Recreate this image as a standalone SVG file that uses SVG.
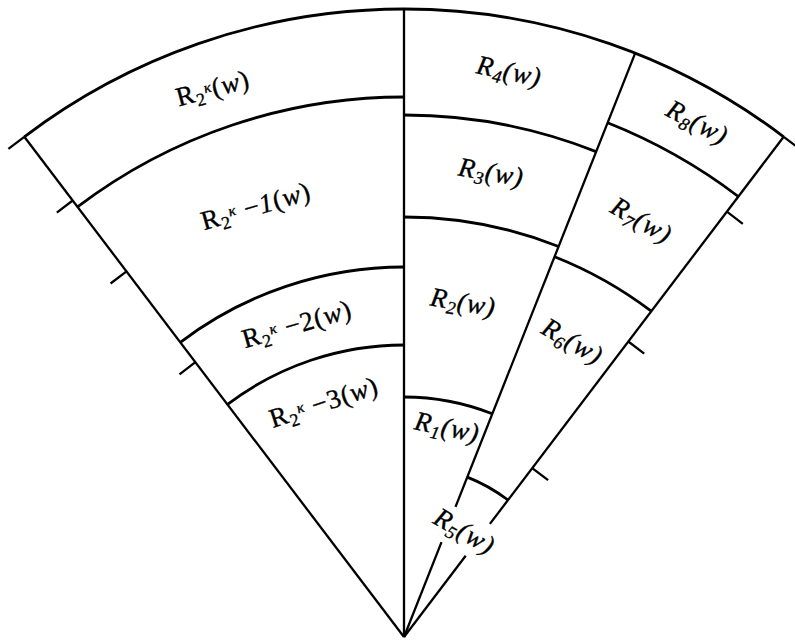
<svg xmlns="http://www.w3.org/2000/svg" width="795" height="643" viewBox="0 0 795 643">
<style>
.rad{fill:none;stroke:#000;stroke-width:2.3;stroke-linecap:butt}
.arc{fill:none;stroke:#000;stroke-width:2.8}
.tick{fill:none;stroke:#000;stroke-width:2.3}
.lbl{font-family:"Liberation Serif","Times New Roman",serif;font-size:27px;fill:#000;stroke:#000;stroke-width:0.35;letter-spacing:0.8px}
.it{font-style:italic}
.sub{font-size:18px}
.sup{font-size:15px;font-style:italic}
</style>
<rect width="795" height="643" fill="#fff"/>
<g id="connectors">
  <line class="rad" x1="404" y1="637" x2="24.3" y2="136.8"/>
  <line class="rad" x1="404" y1="637" x2="404" y2="9"/>
  <line class="rad" x1="404" y1="637" x2="441.5" y2="542.2"/>
  <line class="rad" x1="455.5" y1="506.8" x2="635.2" y2="53.1"/>
  <line class="rad" x1="404" y1="637" x2="465.7" y2="555.8"/>
  <line class="rad" x1="489.9" y1="523.9" x2="783.7" y2="136.8"/>
  <path class="arc" d="M24.3 136.8 A628 628 0 0 1 783.7 136.8"/>
  <path class="arc" d="M77.5 206.9 A540 540 0 0 1 404 97"/>
  <path class="arc" d="M180.3 342.3 A370 370 0 0 1 404 267"/>
  <path class="arc" d="M227.5 404.4 A292 292 0 0 1 404 345"/>
  <path class="arc" d="M404 115 A522 522 0 0 1 596.1 151.6"/>
  <path class="arc" d="M404 217 A420 420 0 0 1 558.6 246.5"/>
  <path class="arc" d="M404 397 A240 240 0 0 1 492.3 413.8"/>
  <path class="arc" d="M607.6 122.8 A553 553 0 0 1 738.3 196.5"/>
  <path class="arc" d="M554.6 256.7 A409 409 0 0 1 651.3 311.2"/>
  <path class="arc" d="M467.3 477.1 A172 172 0 0 1 508 500"/>
  <line class="tick" x1="24.3" y1="136.8" x2="8.4" y2="148.9"/>
  <line class="tick" x1="72.7" y1="200.5" x2="56.8" y2="212.6"/>
  <line class="tick" x1="126.5" y1="271.4" x2="110.6" y2="283.5"/>
  <line class="tick" x1="195.4" y1="362.2" x2="179.5" y2="374.3"/>
  <line class="tick" x1="783.7" y1="136.8" x2="799.6" y2="148.9"/>
  <line class="tick" x1="726.9" y1="211.7" x2="742.8" y2="223.8"/>
  <line class="tick" x1="628.3" y1="341.5" x2="644.2" y2="353.6"/>
  <line class="tick" x1="532.2" y1="468.1" x2="548.1" y2="480.2"/>
</g>
<g id="R2k">
  <text class="lbl" text-anchor="middle" transform="translate(213,89) rotate(-15)" y="8">R<tspan class="sub" dy="5">2</tspan><tspan class="sup" dy="-11">κ</tspan><tspan dy="6">(</tspan><tspan class="it">w</tspan>)</text>
</g>
<g id="R2k-1">
  <text class="lbl" text-anchor="middle" transform="translate(256,207) rotate(-16)" y="8">R<tspan class="sub" dy="5">2</tspan><tspan class="sup" dy="-11">κ</tspan><tspan dy="6"> −</tspan><tspan class="it">1</tspan>(<tspan class="it">w</tspan>)</text>
</g>
<g id="R2k-2">
  <text class="lbl" text-anchor="middle" transform="translate(297,325) rotate(-16)" y="8">R<tspan class="sub" dy="5">2</tspan><tspan class="sup" dy="-11">κ</tspan><tspan dy="6"> −2(</tspan><tspan class="it">w</tspan>)</text>
</g>
<g id="R2k-3">
  <text class="lbl" text-anchor="middle" transform="translate(324,403) rotate(-18)" y="8">R<tspan class="sub" dy="5">2</tspan><tspan class="sup" dy="-11">κ</tspan><tspan dy="6"> −3(</tspan><tspan class="it">w</tspan>)</text>
</g>
<g id="R4">
  <text class="lbl it" text-anchor="middle" transform="translate(509,72) rotate(12)" y="8">R<tspan class="sub" dy="5">4</tspan><tspan dy="-5">(w)</tspan></text>
</g>
<g id="R3">
  <text class="lbl it" text-anchor="middle" transform="translate(491,173) rotate(10)" y="8">R<tspan class="sub" dy="5">3</tspan><tspan dy="-5">(w)</tspan></text>
</g>
<g id="R2">
  <text class="lbl it" text-anchor="middle" transform="translate(463,303) rotate(10)" y="8">R<tspan class="sub" dy="5">2</tspan><tspan dy="-5">(w)</tspan></text>
</g>
<g id="R1">
  <text class="lbl it" text-anchor="middle" transform="translate(447,428) rotate(12)" y="8">R<tspan class="sub" dy="5">1</tspan><tspan dy="-5">(w)</tspan></text>
</g>
<g id="R8">
  <text class="lbl it" text-anchor="middle" transform="translate(697,123) rotate(28)" y="8">R<tspan class="sub" dy="5">8</tspan><tspan dy="-5">(w)</tspan></text>
</g>
<g id="R7">
  <text class="lbl it" text-anchor="middle" transform="translate(641,221) rotate(30)" y="8">R<tspan class="sub" dy="5">7</tspan><tspan dy="-5">(w)</tspan></text>
</g>
<g id="R6">
  <text class="lbl it" text-anchor="middle" transform="translate(572,342) rotate(30)" y="8">R<tspan class="sub" dy="5">6</tspan><tspan dy="-5">(w)</tspan></text>
</g>
<g id="R5">
  <text class="lbl it" text-anchor="middle" transform="translate(464,532) rotate(30)" y="8">R<tspan class="sub" dy="5">5</tspan><tspan dy="-5">(w)</tspan></text>
</g>
</svg>
